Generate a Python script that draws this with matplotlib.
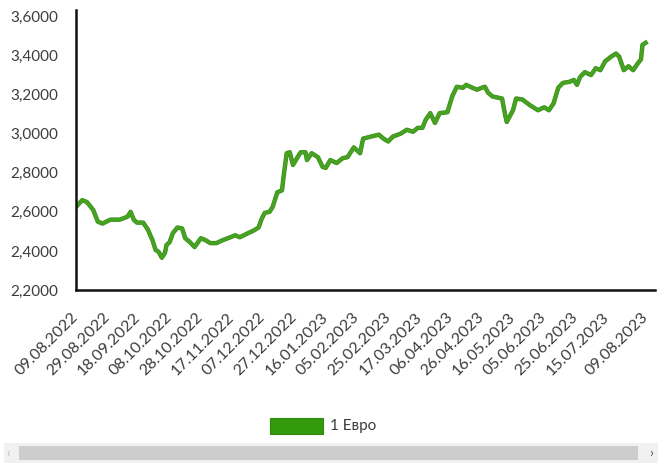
import numpy as np
import matplotlib
matplotlib.use("Agg")
import matplotlib.pyplot as plt
from matplotlib.patches import Rectangle
import matplotlib.patheffects as pe

plt.rcParams['font.family'] = ['Lato', 'DejaVu Sans']

start_date = '2022-08-09'
day_offsets = [0, 4, 7, 11, 14, 17, 22, 28, 33, 35, 37, 39, 43, 46, 49, 51, 53, 55, 57, 58,
               60, 62, 65, 68, 70, 73, 76, 80, 83, 86, 90, 94, 99, 102, 105, 110, 114, 117,
               119, 121, 124, 126, 129, 132, 133, 135, 137, 139, 142, 144, 147, 148, 151,
               155, 158, 160, 163, 167, 171, 174, 178, 182, 184, 189, 194, 197, 200, 203,
               208, 212, 216, 219, 222, 224, 227, 230, 233, 238, 241, 244, 248, 250, 254,
               257, 260, 262, 264, 267, 273, 275, 276, 280, 282, 286, 291, 296, 300, 303,
               306, 309, 312, 316, 319, 321, 323, 326, 330, 333, 336, 339, 343, 346, 348,
               351, 354, 357, 360, 362, 363, 365]
euro_rate = [2.625, 2.66, 2.65, 2.61, 2.55, 2.54, 2.56, 2.56, 2.575, 2.60, 2.56, 2.545, 2.545,
             2.51, 2.455, 2.405, 2.395, 2.365, 2.39, 2.43, 2.445, 2.49, 2.52, 2.515, 2.465,
             2.445, 2.42, 2.465, 2.455, 2.44, 2.44, 2.455, 2.47, 2.48, 2.47, 2.49, 2.505,
             2.52, 2.565, 2.595, 2.60, 2.625, 2.70, 2.71, 2.78, 2.90, 2.905, 2.84, 2.88,
             2.905, 2.905, 2.865, 2.90, 2.88, 2.83, 2.825, 2.865, 2.85, 2.875, 2.88, 2.93,
             2.90, 2.975, 2.985, 2.995, 2.975, 2.96, 2.985, 3.00, 3.02, 3.01, 3.03, 3.03,
             3.07, 3.105, 3.055, 3.105, 3.11, 3.19, 3.24, 3.235, 3.25, 3.235, 3.225, 3.235,
             3.24, 3.21, 3.19, 3.18, 3.095, 3.06, 3.12, 3.18, 3.175, 3.145, 3.12, 3.135,
             3.12, 3.155, 3.235, 3.26, 3.265, 3.275, 3.25, 3.29, 3.315, 3.30, 3.335, 3.325,
             3.37, 3.395, 3.41, 3.395, 3.325, 3.345, 3.325, 3.36, 3.38, 3.455, 3.465]
tick_dates = ['09.08.2022', '29.08.2022', '18.09.2022', '08.10.2022', '28.10.2022',
              '17.11.2022', '07.12.2022', '27.12.2022', '16.01.2023', '05.02.2023',
              '25.02.2023', '17.03.2023', '06.04.2023', '26.04.2023', '16.05.2023',
              '05.06.2023', '25.06.2023', '15.07.2023', '09.08.2023']
y_ticks = [2.2, 2.4, 2.6, 2.8, 3.0, 3.2, 3.4, 3.6]
series_name = '1 Евро'

x = np.datetime64(start_date) + np.array(day_offsets).astype('timedelta64[D]')
tick_x = [np.datetime64('-'.join(d.split('.')[::-1])) for d in tick_dates]

fig = plt.figure(figsize=(6.62, 4.70), dpi=100)
ax = fig.add_axes([76/662, 180/470, 579/662, 280/470])

ax.plot(x, euro_rate, color='#46a221', lw=2.4, solid_joinstyle='round',
        path_effects=[pe.Stroke(linewidth=3.2, foreground='#3a8a1c'), pe.Normal()])

x0 = np.datetime64(start_date)
ax.set_xlim(x0, x0 + np.timedelta64(371, 'D'))
ax.set_ylim(2.2, 3.633)
ax.set_yticks(y_ticks)
ax.set_yticklabels([f"{v:.4f}".replace('.', ',') for v in y_ticks])
ax.set_xticks(tick_x)
ax.set_xticklabels(tick_dates, rotation=45, ha='right', va='center', rotation_mode='anchor')
ax.tick_params(axis='both', length=0, colors='#3c3c3c')
ax.tick_params(axis='y', pad=13, labelsize=11)
ax.tick_params(axis='x', pad=18, labelsize=11.5)
for s in ['top', 'right']:
    ax.spines[s].set_visible(False)
for s in ['left', 'bottom']:
    ax.spines[s].set_linewidth(1.8)
    ax.spines[s].set_color('#111111')

# legend
fig.patches.append(Rectangle((270/662, 1 - 434/470), 53/662, 16/470, transform=fig.transFigure,
                             facecolor='#339a0e', edgecolor='#2e8a0c', lw=0.8))
fig.text(330/662, 1 - 426/470, series_name, fontsize=11, va='center', ha='left', color='#3c3c3c')

# scrollbar
fig.patches.append(Rectangle((4/662, 1 - 463/470), 654/662, 20/470, transform=fig.transFigure,
                             facecolor='#f1f1f1', edgecolor='none'))
fig.patches.append(Rectangle((19/662, 1 - 460/470), 619/662, 14/470, transform=fig.transFigure,
                             facecolor='#cdcdcd', edgecolor='none'))
fig.text(8/662, 1 - 453/470, '‹', fontsize=9, va='center', ha='center', color='#bbbbbb')
fig.text(651/662, 1 - 453/470, '›', fontsize=10, va='center', ha='center', color='#555555')

fig.savefig('out.png', dpi=100)
